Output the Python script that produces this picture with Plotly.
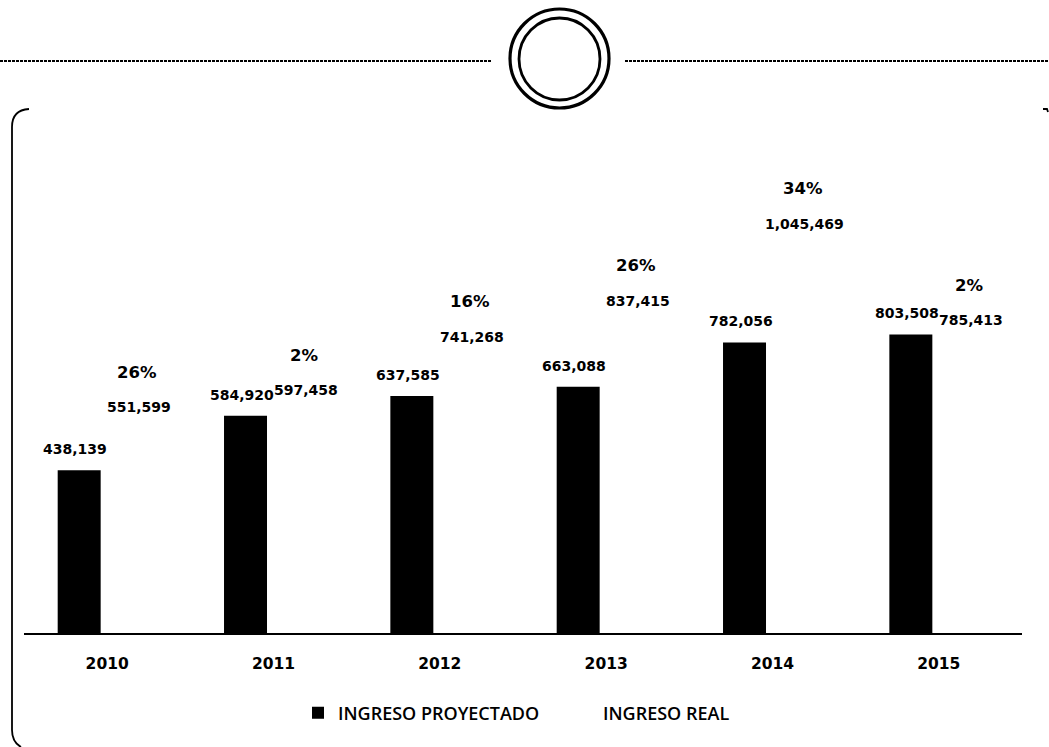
import plotly.graph_objects as go

years = ["2010", "2011", "2012", "2013", "2014", "2015"]
proyectado = [438139, 584920, 637585, 663088, 782056, 803508]
real = [551599, 597458, 741268, 837415, 1045469, 785413]
pct_labels = ["26%", "2%", "16%", "26%", "34%", "2%"]

W, H = 1049, 747
ML, MR, MT, MB = 24, 27, 150, 114
PW, PH = W - ML - MR, H - MT - MB


def px(x):
    return (x - ML) / PW


def py(y):
    return (H - MB - y) / PH


fig = go.Figure()
fig.add_trace(go.Bar(name="INGRESO PROYECTADO", x=years, y=proyectado,
                     marker=dict(color="black", line=dict(width=0))))
fig.add_trace(go.Bar(name="INGRESO REAL", x=years, y=real,
                     marker=dict(color="rgba(255,255,255,0)", line=dict(width=0))))

lab_font = dict(family="DejaVu Sans", size=14, color="black", weight="bold")
pct_font = dict(family="DejaVu Sans", size=16.5, color="black", weight="bold")
ann = []
for i, (p, r, pc) in enumerate(zip(proyectado, real, pct_labels)):
    ann.append(dict(x=i, y=p, text=f"{p:,}", showarrow=False, xshift=-32, yshift=21,
                    yanchor="middle", font=lab_font))
    ann.append(dict(x=i, y=r, text=f"{r:,}", showarrow=False, xshift=32, yshift=21,
                    yanchor="middle", font=lab_font))
    ann.append(dict(x=i, y=r, text=pc, showarrow=False, xshift=30, yshift=56,
                    yanchor="middle", font=pct_font))

shapes = []
shapes.append(dict(type="line", xref="paper", yref="paper", x0=px(0), x1=px(492),
                   y0=py(61), y1=py(61), line=dict(color="black", width=1.8, dash="3px,1px")))
shapes.append(dict(type="line", xref="paper", yref="paper", x0=px(625), x1=px(1049),
                   y0=py(61), y1=py(61), line=dict(color="black", width=1.8, dash="3px,1px")))
shapes.append(dict(type="circle", xref="paper", yref="paper", x0=px(510), x1=px(609),
                   y0=py(9), y1=py(108), line=dict(color="black", width=3.2)))
shapes.append(dict(type="circle", xref="paper", yref="paper", x0=px(519), x1=px(600),
                   y0=py(18), y1=py(100), line=dict(color="black", width=2.8)))
path = (f"M {px(29)},{py(109)} Q {px(12)},{py(110)} {px(12)},{py(127)} "
        f"L {px(12)},{py(730)} Q {px(12)},{py(742)} {px(21)},{py(747)}")
shapes.append(dict(type="path", xref="paper", yref="paper", path=path,
                   line=dict(color="black", width=1.8)))
path2 = f"M {px(1043)},{py(109)} L {px(1047)},{py(109)} L {px(1048)},{py(112)}"
shapes.append(dict(type="path", xref="paper", yref="paper", path=path2,
                   line=dict(color="black", width=1.8)))

fig.update_layout(
    width=W, height=H,
    margin=dict(l=ML, r=MR, t=MT, b=MB, autoexpand=False),
    paper_bgcolor="white", plot_bgcolor="white",
    barmode="group", bargap=0.327, bargroupgap=0.232,
    showlegend=True,
    legend=dict(orientation="h", x=px(298), xanchor="left", y=py(713), yanchor="middle",
                font=dict(family="Open Sans", size=18, color="black", weight=600),
                itemwidth=30, entrywidth=220, bgcolor="rgba(0,0,0,0)"),
    annotations=ann,
    shapes=shapes,
)
fig.update_xaxes(type="category", range=[-0.5, 5.5], showline=True, linecolor="black",
                 linewidth=2, showgrid=False, ticks="", ticklabelstandoff=15, automargin=False,
                 tickfont=dict(family="DejaVu Sans", size=15.5, color="black", weight="bold"))
fig.update_yaxes(range=[0, 1300000], visible=False, showgrid=False)

fig.write_html("out.html", config={"displayModeBar": False},
               post_script="document.body.style.margin='0';document.body.style.overflow='hidden';")
